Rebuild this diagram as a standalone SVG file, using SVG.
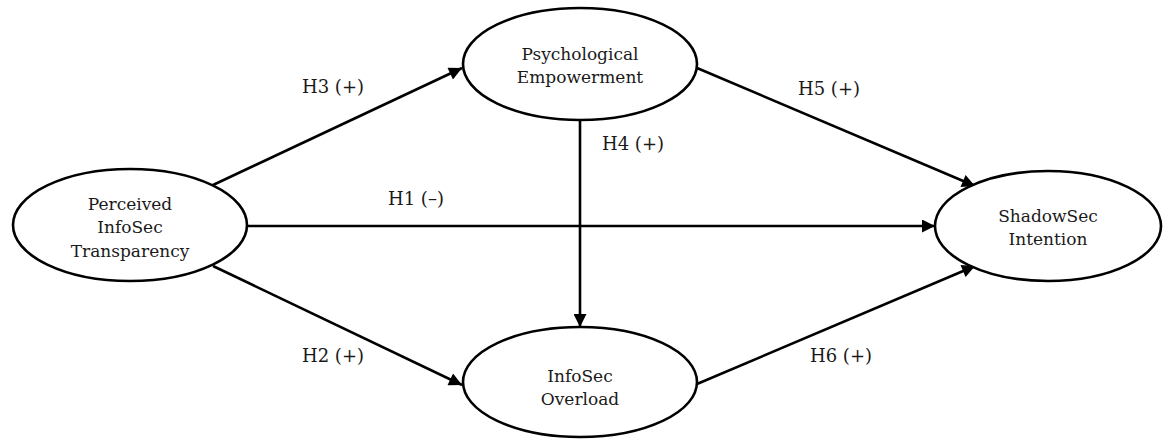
<svg xmlns="http://www.w3.org/2000/svg" width="1164" height="441" viewBox="0 0 1164 441">
<style>
.n{fill:#fff;stroke:#000;stroke-width:2.6}
.t{font-family:"DejaVu Serif","Liberation Serif",serif;font-size:17px;fill:#1a1a1a;text-anchor:middle}
.l{font-family:"DejaVu Serif","Liberation Serif",serif;font-size:18px;fill:#1a1a1a}
.c{stroke:#000;stroke-width:2.6;fill:none;marker-end:url(#a)}
</style>
<defs>
<marker id="a" viewBox="0 0 10 10" refX="10" refY="5" markerWidth="6.5" markerHeight="5" markerUnits="strokeWidth" orient="auto"><path d="M0,0L10,5L0,10z" fill="#000"/></marker>
</defs>
<g id="connectors">
<line class="c" x1="213" y1="185" x2="462" y2="68"/>
<line class="c" x1="697" y1="68" x2="975" y2="186"/>
<line class="c" x1="580" y1="120" x2="580" y2="327"/>
<line class="c" x1="248" y1="226" x2="935" y2="226"/>
<line class="c" x1="213" y1="266" x2="462" y2="385"/>
<line class="c" x1="697" y1="384" x2="975" y2="266"/>
<text class="l" x="302" y="93">H3 (+)</text>
<text class="l" x="798" y="95">H5 (+)</text>
<text class="l" x="602" y="150">H4 (+)</text>
<text class="l" x="388" y="205">H1 (–)</text>
<text class="l" x="302" y="362">H2 (+)</text>
<text class="l" x="810" y="362">H6 (+)</text>
</g>
<g id="pit">
<ellipse class="n" cx="130" cy="225" rx="117" ry="56"/>
<text class="t" x="130" y="210">Perceived</text>
<text class="t" x="130" y="233">InfoSec</text>
<text class="t" x="130" y="257">Transparency</text>
</g>
<g id="pe">
<ellipse class="n" cx="580" cy="64" rx="117" ry="56"/>
<text class="t" x="580" y="60">Psychological</text>
<text class="t" x="580" y="83">Empowerment</text>
</g>
<g id="ssi">
<ellipse class="n" cx="1048" cy="226" rx="113" ry="55"/>
<text class="t" x="1048" y="222">ShadowSec</text>
<text class="t" x="1048" y="245">Intention</text>
</g>
<g id="io">
<ellipse class="n" cx="580" cy="382" rx="117" ry="55"/>
<text class="t" x="580" y="382">InfoSec</text>
<text class="t" x="580" y="405">Overload</text>
</g>
</svg>
